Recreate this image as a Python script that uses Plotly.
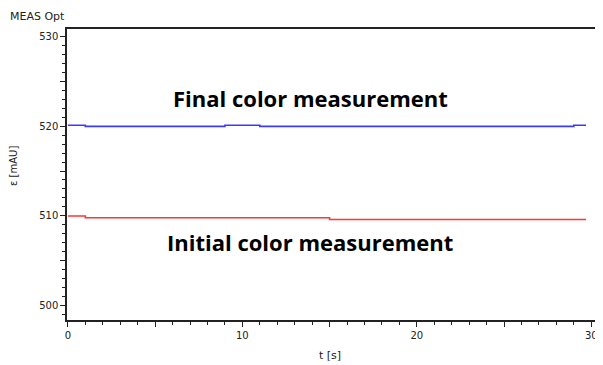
import plotly.graph_objects as go

# Data (step-like measurement traces)
t_final = [0, 1, 1, 9, 9, 11, 11, 29, 29, 29.7]
e_final = [520.1, 520.1, 519.97, 519.97, 520.1, 520.1, 519.97, 519.97, 520.1, 520.1]
t_initial = [0, 1, 1, 15, 15, 29.7]
e_initial = [509.99, 509.99, 509.79, 509.79, 509.6, 509.6]

x_tickvals = [0, 5, 10, 15, 20, 25, 30]
x_ticktext = ["0", "", "10", "", "20", "", "30"]
y_tickvals = [500, 505, 510, 515, 520, 525, 530]
y_ticktext = ["500", "", "510", "", "520", "", "530"]

OFF = 8  # page body margin
W, H = 603 - OFF, 365 - OFF
L, R, T, B = 67 - OFF, 3, 29 - OFF, 45
pw, ph = W - L - R, H - T - B

def px_x(p):  # page pixel -> paper x
    return (p - OFF - L) / pw

def px_y(p):  # page pixel -> paper y
    return (H - B - (p - OFF)) / ph

fig = go.Figure()
fig.add_trace(go.Scatter(x=t_final, y=e_final, mode="lines",
                         line=dict(color="#3a3aff", width=1.6), showlegend=False))
fig.add_trace(go.Scatter(x=t_initial, y=e_initial, mode="lines",
                         line=dict(color="#ff3535", width=1.6), showlegend=False))

tickfont = dict(family="DejaVu Sans", size=10, color="#222")

fig.update_layout(
    width=W, height=H,
    margin=dict(l=L, r=R, t=T, b=B, autoexpand=False),
    paper_bgcolor="white", plot_bgcolor="white",
    font=dict(family="DejaVu Sans", size=10, color="#222"),
    xaxis=dict(range=[-0.05, 30.5], tickvals=x_tickvals, ticktext=x_ticktext,
               ticks="outside", ticklen=5, tickwidth=1, tickcolor="#222",
               minor=dict(dtick=1, ticks="outside", ticklen=3, tickcolor="#222", showgrid=False),
               showgrid=False, zeroline=False, showline=True, linecolor="#222", linewidth=1.5,
               mirror=True, tickfont=tickfont, automargin=False),
    yaxis=dict(range=[498.41, 530.81], tickvals=y_tickvals, ticktext=y_ticktext,
               ticks="outside", ticklen=5, tickwidth=1, tickcolor="#222",
               minor=dict(dtick=1, ticks="outside", ticklen=3, tickcolor="#222", showgrid=False),
               showgrid=False, zeroline=False, showline=True, linecolor="#222", linewidth=1.5,
               tickfont=tickfont, automargin=False),
    annotations=[
        dict(text="MEAS Opt", xref="paper", yref="paper", x=px_x(8), y=px_y(17),
             xanchor="left", yanchor="middle", showarrow=False,
             font=dict(family="DejaVu Sans", size=11, color="#222")),
        dict(text="t [s]", xref="paper", yref="paper", x=px_x(330), y=px_y(355),
             xanchor="center", yanchor="middle", showarrow=False,
             font=dict(family="DejaVu Sans", size=11, color="#222")),
        dict(text="ε [mAU]", xref="paper", yref="paper", x=px_x(13), y=px_y(166),
             xanchor="center", yanchor="middle", showarrow=False, textangle=-90,
             font=dict(family="DejaVu Sans", size=10, color="#222")),
        dict(text="<b>Final color measurement</b>", xref="x", yref="y", x=13.9, y=523.13,
             showarrow=False, font=dict(family="Open Sans", size=22, color="black")),
        dict(text="<b>Initial color measurement</b>", xref="x", yref="y", x=13.9, y=507.09,
             showarrow=False, font=dict(family="Open Sans", size=22, color="black")),
    ],
    shapes=[dict(type="line", xref="paper", yref="paper", x0=1, x1=1, y0=0, y1=1,
                 line=dict(color="#d0d0d0", width=1.5))],
)

fig.write_html("out.html")
